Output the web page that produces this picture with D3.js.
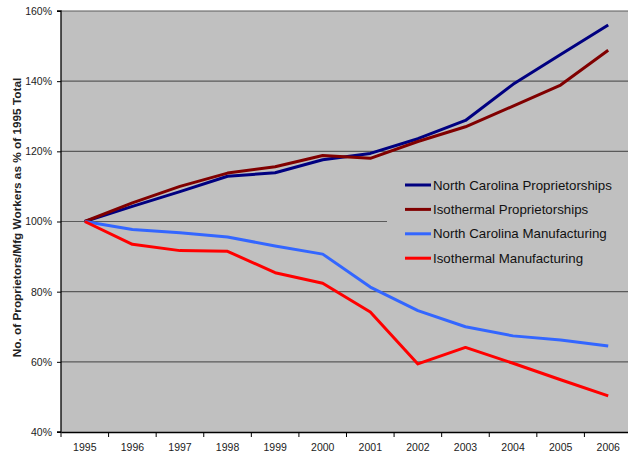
<!DOCTYPE html>
<html>
<head>
<meta charset="utf-8">
<script src="https://cdn.jsdelivr.net/npm/d3@7"></script>
<style>
  body { margin: 0; background: #fff; }
  #graph { width: 628px; height: 456px; overflow: hidden; }
  text { font-family: Arial, "Liberation Sans", sans-serif; }
</style>
</head>
<body>
<div id="graph"></div>
<script>
// Data ////////////////////////////////////////////////////////////////
const years = ["1995", "1996", "1997", "1998", "1999", "2000", "2001", "2002", "2003", "2004", "2005", "2006"];

const ncProprietorships = [100, 104.3, 108.5, 112.9, 113.9, 117.6, 119.4, 123.6, 128.8, 139.1, 147.6, 156.0];
const isoProprietorships = [100, 105.3, 110.0, 113.8, 115.6, 118.8, 118.0, 122.8, 127.0, 132.9, 138.9, 148.8];
const ncManufacturing = [100, 97.7, 96.8, 95.6, 93.0, 90.7, 81.3, 74.6, 70.0, 67.4, 66.2, 64.5];
const isoManufacturing = [100, 93.5, 91.7, 91.5, 85.4, 82.4, 74.2, 59.4, 64.1, 59.6, 54.9, 50.3];

const seriesNames = [
  "North Carolina Proprietorships",
  "Isothermal Proprietorships",
  "North Carolina Manufacturing",
  "Isothermal Manufacturing"
];
const yTicks = [40, 60, 80, 100, 120, 140, 160];

// Constants ////////////////////////////////////////////////////////////////
const svgWidth = 628;
const svgHeight = 456;
const plot = { left: 61, right: 632, top: 11, bottom: 432 };
const colors = ["#000080", "#800000", "#3366ff", "#ff0000"];

const series = [ncProprietorships, isoProprietorships, ncManufacturing, isoManufacturing]
  .map((values, i) => ({ name: seriesNames[i], color: colors[i], values }));

// Containers ////////////////////////////////////////////////////////////////
const svg = d3
  .select("#graph")
  .append("svg")
  .attr("width", svgWidth)
  .attr("height", svgHeight);

const x = d3.scaleBand().domain(years).range([plot.left, plot.right]).padding(0);
const y = d3.scaleLinear().domain([40, 160]).range([plot.bottom, plot.top]);

// Plot background
svg.append("rect")
  .attr("x", plot.left)
  .attr("y", plot.top)
  .attr("width", plot.right - plot.left)
  .attr("height", plot.bottom - plot.top)
  .style("fill", "#c0c0c0");

// Gridlines
svg.append("g")
  .selectAll("line")
  .data(yTicks.filter(d => d > 40))
  .join("line")
  .attr("x1", plot.left)
  .attr("x2", plot.right)
  .attr("y1", d => y(d))
  .attr("y2", d => y(d))
  .style("stroke", "#5a5a5a")
  .style("stroke-width", 1.2);

// Legend box (covers the gridline behind it)
const legend = svg.append("g");
legend.append("rect")
  .attr("x", 387)
  .attr("y", 166)
  .attr("width", 245)
  .attr("height", 112)
  .style("fill", "#c0c0c0");

// Axes ////////////////////////////////////////////////////////////////
const yAxis = svg.append("g")
  .attr("transform", `translate(${plot.left},0)`)
  .call(d3.axisLeft(y).tickValues(yTicks).tickFormat(d => d + "%").tickSize(4).tickPadding(5));

const xAxis = svg.append("g")
  .attr("transform", `translate(0,${plot.bottom})`)
  .call(d3.axisBottom(x).tickSize(0).tickPadding(12));

xAxis.selectAll(".tick")
  .append("line")
  .attr("x1", -x.bandwidth() / 2)
  .attr("x2", -x.bandwidth() / 2)
  .attr("y2", 5)
  .style("stroke", "#000");

[yAxis, xAxis].forEach(axis => {
  axis.select(".domain").style("stroke", "#000").style("stroke-width", 1.3);
  axis.selectAll(".tick line").style("stroke", "#000");
  axis.selectAll("text")
    .style("font-size", "10.5px")
    .style("font-family", "Arial, 'Liberation Sans', sans-serif")
    .style("fill", "#222");
});
yAxis.select(".domain").attr("d", `M-4,${plot.top}H0V${plot.bottom}H-4`);

// Y title
svg.append("text")
  .attr("transform", `translate(21,${(plot.top + plot.bottom) / 2 - 4}) rotate(-90)`)
  .attr("text-anchor", "middle")
  .style("font-size", "11.8px")
  .style("font-weight", "bold")
  .style("fill", "#222")
  .text("No. of Proprietors/Mfg Workers as % of 1995 Total");

// Lines ////////////////////////////////////////////////////////////////
const line = d3.line()
  .x((d, i) => x(years[i]) + x.bandwidth() / 2)
  .y(d => y(d));

svg.append("g")
  .selectAll("path")
  .data(series)
  .join("path")
  .attr("d", d => line(d.values))
  .style("fill", "none")
  .style("stroke", d => d.color)
  .style("stroke-width", 3)
  .style("stroke-linejoin", "round");

// Legend entries
const item = legend.selectAll(".item")
  .data(series)
  .join("g")
  .attr("class", "item")
  .attr("transform", (d, i) => `translate(405,${185 + i * 24.4})`);

item.append("line")
  .attr("x1", 0)
  .attr("x2", 26)
  .style("stroke", d => d.color)
  .style("stroke-width", 3);

item.append("text")
  .attr("x", 28)
  .attr("dy", "0.35em")
  .style("font-size", "13.3px")
  .style("fill", "#111")
  .text(d => d.name);
</script>
</body>
</html>
